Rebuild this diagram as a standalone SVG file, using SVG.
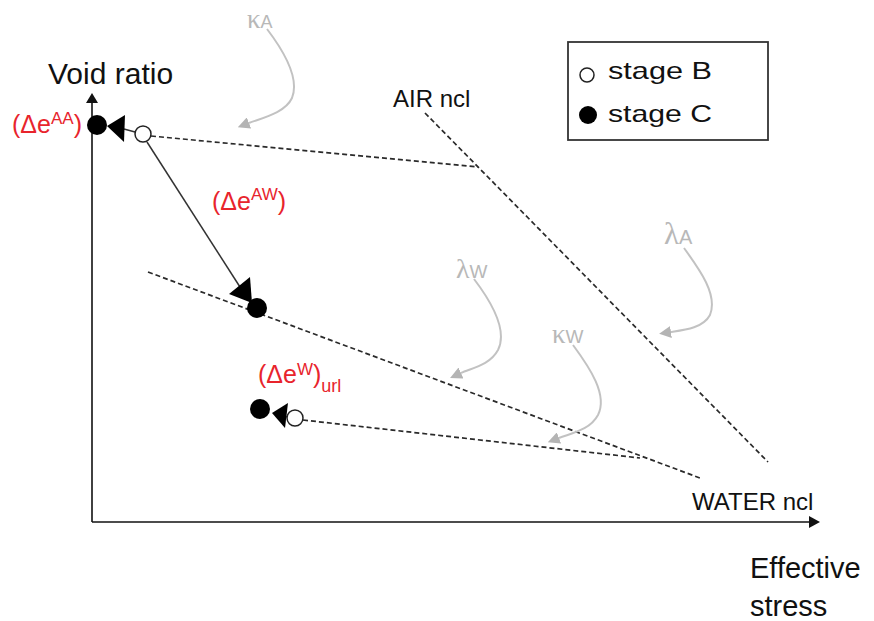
<svg xmlns="http://www.w3.org/2000/svg" width="874" height="621" viewBox="0 0 874 621">
  <defs>
    <style>
      .txt { font-family: "Liberation Sans", Arial, sans-serif; fill: #111; }
      .red { font-family: "Liberation Sans", Arial, sans-serif; fill: #e8242c; font-size: 25px; }
      .grey { font-family: "Liberation Sans", Arial, sans-serif; fill: #b8b8b8; }
      .greek { font-family: "Liberation Serif", "Times New Roman", serif; }
      .axis { stroke: #111; stroke-width: 1.6; fill: none; }
      .dash { stroke: #2a2a2a; stroke-width: 1.7; fill: none; stroke-dasharray: 5 3; }
      .path { stroke: #333; stroke-width: 1.5; fill: none; }
      .lead { stroke: #c2c2c2; stroke-width: 2; fill: none; marker-end: url(#greyHead); }
      .open { fill: #fff; stroke: #222; stroke-width: 1.5; }
      .solid { fill: #000; }
    </style>
    <marker id="greyHead" viewBox="0 0 10 10" refX="0" refY="5" markerWidth="12" markerHeight="12" markerUnits="userSpaceOnUse" orient="auto">
      <path d="M0,0 L10,5 L0,10 z" fill="#b4b4b4"/>
    </marker>
  </defs>

  <rect width="874" height="621" fill="#fff"/>

  <!-- axes, compression lines, stress paths and leader curves -->
  <g id="connectors">
    <line class="axis" x1="92" y1="522" x2="92" y2="100"/>
    <polygon points="92,93 86,103 98,103" fill="#111"/>
    <line class="axis" x1="92" y1="522" x2="810" y2="522"/>
    <polygon points="820,522 809,516 809,528" fill="#111"/>

    <!-- AIR ncl -->
    <line class="dash" x1="425" y1="113" x2="768" y2="462"/>
    <!-- WATER ncl -->
    <line class="dash" x1="148" y1="272" x2="700" y2="478"/>
    <!-- unloading-reloading lines -->
    <line class="dash" x1="151" y1="136" x2="478" y2="167"/>
    <line class="dash" x1="303" y1="420" x2="640" y2="458"/>

    <!-- stress paths B to C -->
    <line class="path" x1="135" y1="132" x2="124" y2="129"/>
    <line class="path" x1="147" y1="142" x2="240" y2="287"/>
    <line class="path" x1="287" y1="417" x2="284" y2="416"/>

    <!-- leader curves for slopes -->
    <path class="lead" d="M267,29 C283,50 300,78 292,98 C285,113 262,118 249,123"/>
    <path class="lead" d="M684,248 C700,270 718,295 710,315 C703,328 685,330 671,332"/>
    <path class="lead" d="M474,279 C490,300 508,330 498,350 C490,365 472,368 461,373"/>
    <path class="lead" d="M573,345 C590,368 608,395 598,415 C590,430 572,433 559,438"/>
  </g>

  <!-- stage B / stage C points, top left -->
  <g id="point-AA">
    <circle class="solid" cx="97" cy="125" r="10"/>
    <polygon class="solid" points="107,126 125,115 124,142"/>
    <circle class="open" cx="143" cy="134" r="8"/>
  </g>

  <!-- stage C point on the water ncl -->
  <g id="point-AW">
    <polygon class="solid" points="250,277 229,294 252,303"/>
    <circle class="solid" cx="257" cy="308" r="10"/>
  </g>

  <!-- stage B / stage C points, bottom -->
  <g id="point-W">
    <circle class="solid" cx="260" cy="409" r="10"/>
    <polygon class="solid" points="272,413 288,403 285,428"/>
    <circle class="open" cx="295" cy="418" r="8"/>
  </g>

  <g id="label-void-ratio">
    <text class="txt" x="48" y="84" font-size="30">Void ratio</text>
  </g>
  <g id="label-effective-stress">
    <text class="txt" x="750" y="578" font-size="29">Effective</text>
    <text class="txt" x="750" y="616" font-size="29">stress</text>
  </g>
  <g id="label-air-ncl">
    <text class="txt" x="393" y="107" font-size="24">AIR ncl</text>
  </g>
  <g id="label-water-ncl">
    <text class="txt" x="692" y="510" font-size="24">WATER ncl</text>
  </g>

  <g id="label-de-AA">
    <text class="red" x="12" y="133">(Δe<tspan font-size="17" dy="-9">AA</tspan><tspan dy="9">)</tspan></text>
  </g>
  <g id="label-de-AW">
    <text class="red" x="212" y="210">(Δe<tspan font-size="17" dy="-10">AW</tspan><tspan dy="10">)</tspan></text>
  </g>
  <g id="label-de-W">
    <text class="red" x="258" y="383">(Δe<tspan font-size="17" dy="-8">W</tspan><tspan dy="8">)</tspan><tspan font-size="18" dy="9">url</tspan></text>
  </g>

  <g id="label-kappa-A">
    <text class="grey" x="247" y="28"><tspan class="greek" font-size="27">κ</tspan><tspan font-size="18">A</tspan></text>
  </g>
  <g id="label-lambda-A">
    <text class="grey" x="664" y="244"><tspan class="greek" font-size="31">λ</tspan><tspan font-size="20">A</tspan></text>
  </g>
  <g id="label-lambda-W">
    <text class="grey" x="456" y="278"><tspan class="greek" font-size="28">λ</tspan><tspan font-size="19">W</tspan></text>
  </g>
  <g id="label-kappa-W">
    <text class="grey" x="552" y="343"><tspan class="greek" font-size="27">κ</tspan><tspan font-size="19">W</tspan></text>
  </g>

  <g id="legend">
    <rect x="568" y="42" width="200" height="98" fill="#fff" stroke="#333" stroke-width="1.8"/>
    <circle class="open" cx="587" cy="75" r="7"/>
    <text class="txt" x="608" y="79" font-size="24" textLength="104" lengthAdjust="spacingAndGlyphs">stage B</text>
    <circle class="solid" cx="588" cy="115" r="9"/>
    <text class="txt" x="608" y="122" font-size="24" textLength="104" lengthAdjust="spacingAndGlyphs">stage C</text>
  </g>
</svg>
